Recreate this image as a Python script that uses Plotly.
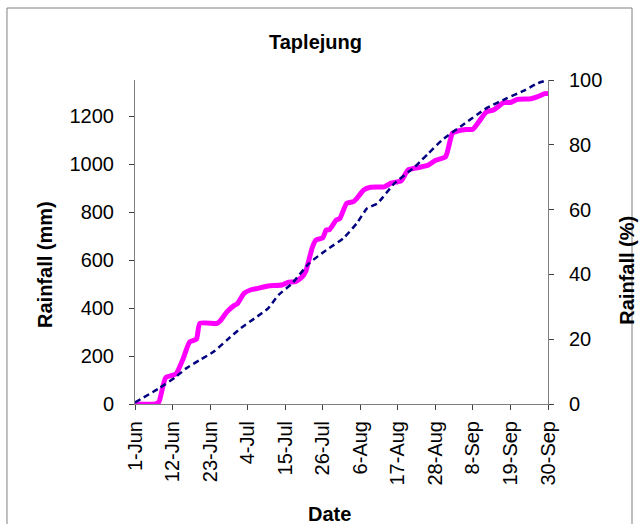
import pandas as pd
import plotly.graph_objects as go

start_date = "2009-06-01"

# cumulative rainfall (mm), left axis
rain_days = [0, 6, 7, 9, 12, 14, 16, 18, 19, 24, 25, 27, 29, 30, 32, 34, 36, 39, 43, 45, 47, 49, 50,
             52, 53, 55, 56, 57, 59, 60, 62, 64, 65, 67, 69, 73, 75, 77, 78, 80, 83, 86, 88, 91,
             93, 95, 97, 99, 103, 105, 108, 110, 112, 116, 118, 120, 121]
rain_mm = [0, 0, 8, 110, 125, 185, 258, 270, 336, 336, 347, 385, 410, 418, 462, 476, 482, 492, 496,
           508, 510, 530, 552, 655, 683, 692, 725, 727, 767, 773, 836, 843, 857, 892, 903, 905, 920,
           926, 930, 975, 985, 996, 1015, 1030, 1128, 1139, 1144, 1145, 1218, 1225, 1256, 1256,
           1269, 1272, 1281, 1293, 1294]

# cumulative rainfall (%), right axis
pct_days = [0, 7, 12, 15, 19, 23, 27, 31, 35, 39, 42, 46, 51, 56, 61, 65, 68, 71, 76, 82, 84, 86,
            90, 96, 103, 109, 114, 118, 121]
pct_vals = [0.5, 4.8, 8.4, 11, 13.6, 16.1, 19.8, 23.4, 26.4, 29.5, 33.6, 37.2, 43.4, 47.5, 51.1,
            55.8, 60.4, 61.9, 68.1, 73.2, 75.3, 77.4, 81.5, 86.1, 91.3, 94.4, 96.7, 99, 100]

left_ticks = [0, 200, 400, 600, 800, 1000, 1200]
right_ticks = [0, 20, 40, 60, 80, 100]

t0 = pd.Timestamp(start_date)
rain_dates = [t0 + pd.Timedelta(days=d) for d in rain_days]
pct_dates = [t0 + pd.Timedelta(days=d) for d in pct_days]

FONT = "Liberation Sans, Arial, sans-serif"

fig = go.Figure()
fig.add_trace(go.Scatter(x=pct_dates, y=pct_vals, mode="lines", yaxis="y2",
                         line=dict(color="#000080", width=2.5, dash="6px,4px", shape="spline",
                                   smoothing=0.5),
                         showlegend=False))
fig.add_trace(go.Scatter(x=rain_dates, y=rain_mm, mode="lines",
                         line=dict(color="#FF00FF", width=5, shape="spline", smoothing=0.5),
                         showlegend=False))

axis_common = dict(showline=True, linecolor="#808080", linewidth=1, ticks="outside", ticklen=5,
                   tickcolor="#404040", showgrid=False, zeroline=False,
                   tickfont=dict(family=FONT, size=20, color="black"))

fig.update_layout(
    width=640, height=524,
    margin=dict(l=135, r=92, t=80, b=120),
    paper_bgcolor="white", plot_bgcolor="white",
    xaxis=dict(type="date", range=[t0, t0 + pd.Timedelta(days=121)],
               tick0=t0, dtick=11 * 86400000, tickformat="%-d-%b", tickangle=-90,
               ticklabelstandoff=3, **axis_common),
    yaxis=dict(range=[0, 1350], tickvals=left_ticks, ticklabelstandoff=11, **axis_common),
    yaxis2=dict(range=[0, 100], tickvals=right_ticks, overlaying="y", side="right",
                ticklabelstandoff=11, **axis_common),
    annotations=[
        dict(text="<b>Taplejung</b>", x=0.436, y=1.117, xref="paper", yref="paper",
             xanchor="center", yanchor="middle",
             showarrow=False, font=dict(family=FONT, size=20, color="black")),
        dict(text="<b>Rainfall (mm)</b>", x=-0.218, y=0.432, xref="paper", yref="paper",
             xanchor="center", yanchor="middle",
             showarrow=False, textangle=-90, font=dict(family=FONT, size=20, color="black")),
        dict(text="<b>Rainfall (%)</b>", x=1.191, y=0.414, xref="paper", yref="paper",
             xanchor="center", yanchor="middle",
             showarrow=False, textangle=-90, font=dict(family=FONT, size=20, color="black")),
        dict(text="<b>Date</b>", x=0.472, y=-0.34, xref="paper", yref="paper",
             xanchor="center", yanchor="middle",
             showarrow=False, font=dict(family=FONT, size=20, color="black")),
    ],
    shapes=[dict(type="rect", xref="paper", yref="paper", x0=-0.310, x1=1.2034, y0=-0.5, y1=1.2222,
                 line=dict(color="#808080", width=1), layer="below")],
)

fig.write_html("out.html", config={"displayModeBar": False},
               post_script="document.body.style.margin='0';document.body.style.overflow='hidden';")
